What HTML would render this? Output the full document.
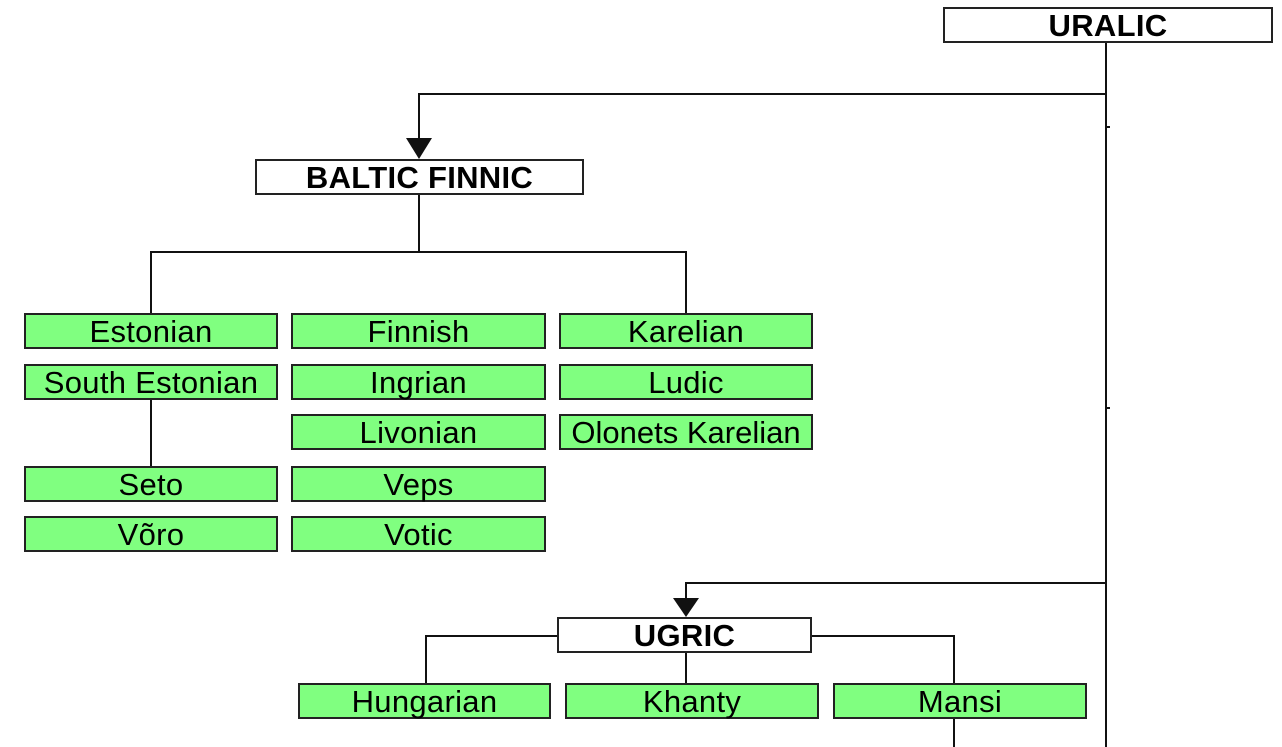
<!DOCTYPE html>
<html><head><meta charset="utf-8"><style>
body{margin:0;width:1282px;height:747px;background:#fff;overflow:hidden;position:relative;font-family:"Liberation Sans",sans-serif}
.b{position:absolute;box-sizing:border-box;border:2px solid #222;background:#80ff80;font-size:31px;text-align:center;line-height:33px;height:36px;white-space:nowrap;letter-spacing:0.3px}
.h{background:#fff;font-weight:bold}
svg{position:absolute;left:0;top:0}
</style></head><body>
<svg width="1282" height="747">
<g stroke="#111" stroke-width="2" fill="none">
<path d="M1106 42V747M1106 127h4M1106 408h4"/>
<path d="M1106 94H419V142"/>
<path d="M419 194V252M151 313V252H686V313M151 399V466"/>
<path d="M1106 583H686V600"/>
<path d="M557 636H426V683M811 636H954V683M686 653V683M954 718V747"/>
</g>
<polygon points="406,138 432,138 419,159" fill="#111"/>
<polygon points="673,598 699,598 686,617" fill="#111"/>
</svg>
<div class="b h" style="left:943px;top:7px;width:330px">URALIC</div>
<div class="b h" style="left:255px;top:159px;width:329px">BALTIC FINNIC</div>
<div class="b" style="left:24px;top:313px;width:254px">Estonian</div>
<div class="b" style="left:24px;top:364px;width:254px">South Estonian</div>
<div class="b" style="left:24px;top:466px;width:254px">Seto</div>
<div class="b" style="left:24px;top:516px;width:254px">Võro</div>
<div class="b" style="left:291px;top:313px;width:255px">Finnish</div>
<div class="b" style="left:291px;top:364px;width:255px">Ingrian</div>
<div class="b" style="left:291px;top:414px;width:255px">Livonian</div>
<div class="b" style="left:291px;top:466px;width:255px">Veps</div>
<div class="b" style="left:291px;top:516px;width:255px">Votic</div>
<div class="b" style="left:559px;top:313px;width:254px">Karelian</div>
<div class="b" style="left:559px;top:364px;width:254px">Ludic</div>
<div class="b" style="left:559px;top:414px;width:254px;letter-spacing:0">Olonets Karelian</div>
<div class="b h" style="left:557px;top:617px;width:255px">UGRIC</div>
<div class="b" style="left:298px;top:683px;width:253px">Hungarian</div>
<div class="b" style="left:565px;top:683px;width:254px">Khanty</div>
<div class="b" style="left:833px;top:683px;width:254px">Mansi</div>
</body></html>
